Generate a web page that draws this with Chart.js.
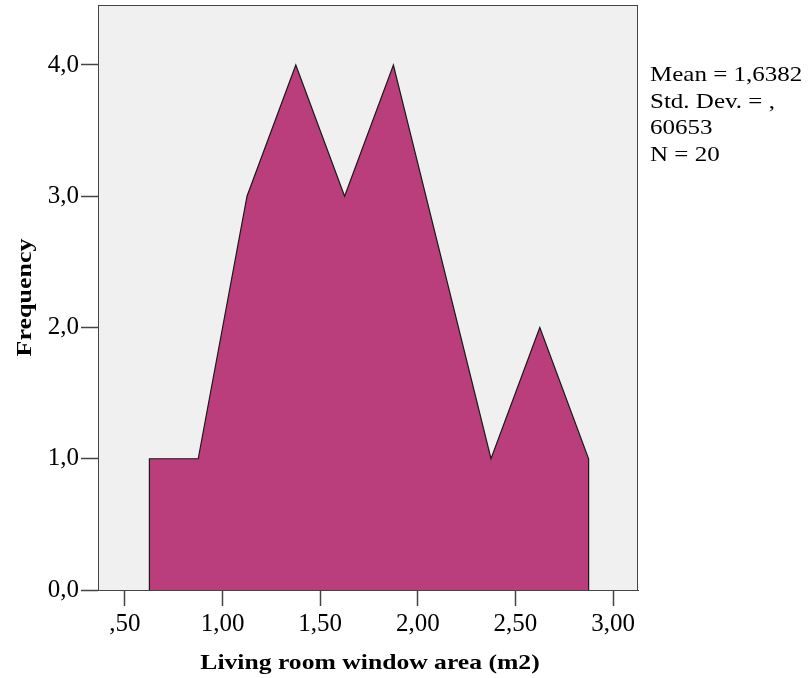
<!DOCTYPE html>
<html>
<head>
<meta charset="utf-8">
<script src="https://cdn.jsdelivr.net/npm/chart.js@4.4.1/dist/chart.umd.min.js"></script>
<style>
  html, body { margin: 0; padding: 0; background: #fff; }
  #wrap { width: 809px; height: 678px; }
</style>
</head>
<body>
<div id="wrap"><canvas id="chart" width="809" height="678"></canvas></div>
<script>
// bin midpoints and their counts (empty bins are left out)
const binMids = [0.625, 0.875, 1.125, 1.375, 1.625, 1.875, 2.375, 2.625, 2.875];
const frequencies = [1, 1, 3, 4, 3, 4, 1, 2, 1];

const xTicks = [0.5, 1.0, 1.5, 2.0, 2.5, 3.0];
const xTickLabels = [',50', '1,00', '1,50', '2,00', '2,50', '3,00'];
const yTicks = [0, 1, 2, 3, 4];
const yTickLabels = ['0,0', '1,0', '2,0', '3,0', '4,0'];

const xTitle = 'Living room window area (m2)';
const yTitle = 'Frequency';
const statLines = ['Mean = 1,6382', 'Std. Dev. = ,', '60653', 'N = 20'];

// polygon closes down to zero at both ends
const points = [{ x: binMids[0], y: 0 }]
  .concat(binMids.map((m, i) => ({ x: m, y: frequencies[i] })))
  .concat([{ x: binMids[binMids.length - 1], y: 0 }]);

const serif = "'Liberation Serif', 'Times New Roman', serif";

// text drawn a little wider than the plain font
function wideText(ctx, text, x, y, stretch, align) {
  ctx.save();
  ctx.translate(x, y);
  ctx.scale(stretch, 1);
  ctx.textAlign = align;
  ctx.fillText(text, 0, 0);
  ctx.restore();
}

const frame = {
  id: 'frame',
  beforeDraw(chart) {
    const { ctx, chartArea: a } = chart;
    ctx.save();
    ctx.fillStyle = '#f0f0f0';
    ctx.fillRect(a.left, a.top, a.right - a.left, a.bottom - a.top);
    ctx.restore();
  },
  afterDraw(chart) {
    const { ctx, chartArea: a } = chart;
    ctx.save();
    ctx.strokeStyle = '#444';
    ctx.lineWidth = 1;
    ctx.strokeRect(a.left + 0.5, a.top + 0.5, a.right - a.left - 1, a.bottom - a.top);

    ctx.fillStyle = '#000';
    ctx.textBaseline = 'alphabetic';

    // statistics box to the right of the plot
    ctx.font = '21px ' + serif;
    statLines.forEach((t, i) => wideText(ctx, t, a.right + 12, 81 + i * 26.7, 1.19, 'left'));

    // axis titles
    ctx.font = 'bold 22px ' + serif;
    wideText(ctx, xTitle, (a.left + a.right) / 2 + 2, 669, 1.165, 'center');
    ctx.save();
    ctx.translate(31, (a.top + a.bottom) / 2);
    ctx.rotate(-Math.PI / 2);
    wideText(ctx, yTitle, 0, 0, 1.18, 'center');
    ctx.restore();
    ctx.restore();
  }
};

new Chart(document.getElementById('chart'), {
  type: 'scatter',
  data: {
    datasets: [{
      data: points,
      showLine: true,
      fill: 'origin',
      backgroundColor: '#ba3e7b',
      borderColor: '#1a1a1a',
      borderWidth: 1.2,
      pointRadius: 0,
      tension: 0
    }]
  },
  options: {
    responsive: false,
    animation: false,
    layout: { padding: { top: 5, right: 171, left: 0, bottom: 0 } },
    plugins: { legend: { display: false }, tooltip: { enabled: false } },
    scales: {
      x: {
        type: 'linear',
        min: 0.3617,
        max: 3.128,
        afterBuildTicks: s => { s.ticks = xTicks.map(v => ({ value: v })); },
        afterFit: s => { s.height = 88; },
        grid: { drawOnChartArea: false, tickLength: 16, color: '#444', tickWidth: 1.5 },
        border: { display: true, color: '#444', width: 1 },
        ticks: {
          color: '#000',
          font: { family: serif, size: 25 },
          padding: 3,
          maxRotation: 0,
          callback: v => xTickLabels[xTicks.indexOf(v)]
        }
      },
      y: {
        min: 0,
        max: 4.457,
        afterBuildTicks: s => { s.ticks = yTicks.map(v => ({ value: v })); },
        afterFit: s => { s.width = 98; s.paddingTop = 0; },
        grid: { drawOnChartArea: false, tickLength: 17, color: '#444', tickWidth: 1.5 },
        border: { display: true, color: '#444', width: 1 },
        ticks: {
          color: '#000',
          font: { family: serif, size: 25 },
          padding: 2,
          callback: v => yTickLabels[yTicks.indexOf(v)]
        }
      }
    }
  },
  plugins: [frame]
});
</script>
</body>
</html>
